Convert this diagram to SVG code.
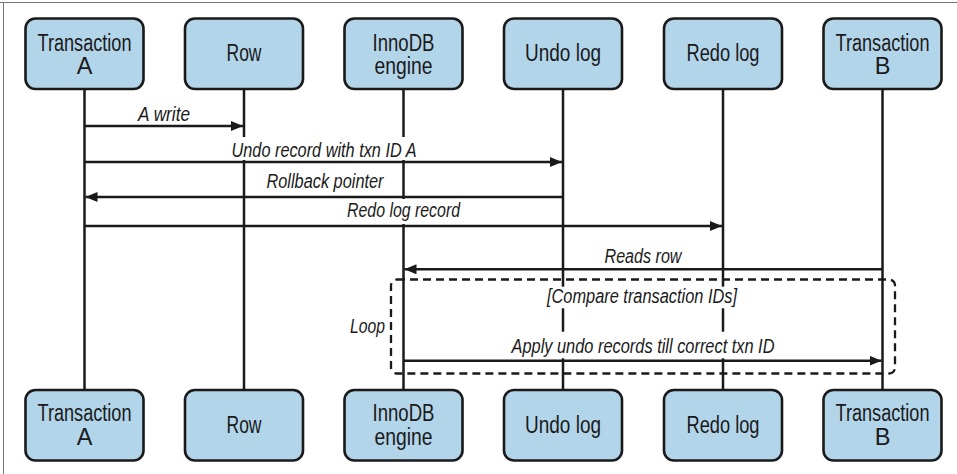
<svg xmlns="http://www.w3.org/2000/svg" width="957" height="474" viewBox="0 0 957 474">
<style>
.box{fill:#b3d5ea;stroke:#1a1a1a;stroke-width:2.6}
.nt{font-family:"Liberation Sans",Arial,sans-serif;font-size:23.5px;fill:#1a1a1a;text-anchor:middle}
.life{stroke:#1a1a1a;stroke-width:2.5;fill:none}
.msg{stroke:#1a1a1a;stroke-width:2.4;fill:none;marker-end:url(#ah)}
.lt{font-family:"Liberation Sans",Arial,sans-serif;font-size:19.5px;font-style:italic;fill:#1a1a1a;text-anchor:middle}
.bg{fill:#ffffff}
.frame{stroke:#777;stroke-width:1;fill:none}
.loop{fill:none;stroke:#1a1a1a;stroke-width:2.3;stroke-dasharray:8 5}
</style>
<defs>
<marker id="ah" markerUnits="userSpaceOnUse" markerWidth="13" markerHeight="11" refX="12" refY="5" orient="auto">
<path d="M0,0 L12,5 L0,10 z" fill="#1a1a1a"/>
</marker>
</defs>
<rect width="957" height="474" fill="#ffffff"/>
<path class="frame" d="M0,2.5 H957 M3.5,2.5 V474"/>

<g id="lifelines">
<line class="life" x1="84.5" y1="89" x2="84.5" y2="390"/>
<line class="life" x1="244" y1="89" x2="244" y2="390"/>
<line class="life" x1="403.5" y1="89" x2="403.5" y2="390"/>
<line class="life" x1="563" y1="89" x2="563" y2="390"/>
<line class="life" x1="723" y1="89" x2="723" y2="390"/>
<line class="life" x1="882.5" y1="89" x2="882.5" y2="390"/>
</g>

<g id="loop-frame">
<rect class="loop" x="391" y="279.5" width="504" height="94" rx="6"/>
<text class="lt" x="385" y="333" style="text-anchor:end" textLength="35" lengthAdjust="spacingAndGlyphs">Loop</text>
<rect class="bg" x="545" y="286.7" width="194" height="21.6"/>
<text class="lt" x="642" y="302.7" textLength="190" lengthAdjust="spacingAndGlyphs">[Compare transaction IDs]</text>
</g>

<g id="connectors">
<g id="msg-a-write">
<line class="msg" x1="84.5" y1="126" x2="243" y2="126"/>
<text class="lt" x="164" y="120.7" textLength="52" lengthAdjust="spacingAndGlyphs">A write</text>
</g>
<g id="msg-undo-record">
<rect class="bg" x="230" y="137" width="189" height="23"/>
<line class="msg" x1="84.5" y1="162" x2="562" y2="162"/>
<text class="lt" x="324" y="156.7" textLength="185" lengthAdjust="spacingAndGlyphs">Undo record with txn ID A</text>
</g>
<g id="msg-rollback">
<line class="msg" x1="563" y1="197" x2="85.5" y2="197"/>
<text class="lt" x="325" y="187.5" textLength="117" lengthAdjust="spacingAndGlyphs">Rollback pointer</text>
</g>
<g id="msg-redo-record">
<rect class="bg" x="345" y="199" width="117" height="25"/>
<line class="msg" x1="84.5" y1="226" x2="722" y2="226"/>
<text class="lt" x="403.5" y="216.7" textLength="113" lengthAdjust="spacingAndGlyphs">Redo log record</text>
</g>
<g id="msg-reads-row">
<line class="msg" x1="882.5" y1="269.3" x2="404.5" y2="269.3"/>
<text class="lt" x="643" y="263.3" textLength="77" lengthAdjust="spacingAndGlyphs">Reads row</text>
</g>
<g id="msg-apply-undo">
<rect class="bg" x="510" y="331.7" width="267" height="26.6"/>
<line class="msg" x1="403.5" y1="360.7" x2="881.5" y2="360.7"/>
<text class="lt" x="643" y="352.7" textLength="263" lengthAdjust="spacingAndGlyphs">Apply undo records till correct txn ID</text>
</g>
</g>

<g id="node-txn-a-top">
<rect class="box" x="25.5" y="18.5" width="118" height="70.5" rx="10"/>
<text class="nt" x="84.5" y="50.5" textLength="94" lengthAdjust="spacingAndGlyphs">Transaction</text>
<text class="nt" x="84.5" y="74.3">A</text>
</g>
<g id="node-row-top">
<rect class="box" x="185" y="18.5" width="118" height="70.5" rx="10"/>
<text class="nt" x="244" y="61" textLength="35" lengthAdjust="spacingAndGlyphs">Row</text>
</g>
<g id="node-innodb-top">
<rect class="box" x="344.5" y="18.5" width="118" height="70.5" rx="10"/>
<text class="nt" x="403.5" y="50.5" textLength="62" lengthAdjust="spacingAndGlyphs">InnoDB</text>
<text class="nt" x="403.5" y="74.3" textLength="58" lengthAdjust="spacingAndGlyphs">engine</text>
</g>
<g id="node-undo-top">
<rect class="box" x="504" y="18.5" width="118" height="70.5" rx="10"/>
<text class="nt" x="563" y="61" textLength="76" lengthAdjust="spacingAndGlyphs">Undo log</text>
</g>
<g id="node-redo-top">
<rect class="box" x="664" y="18.5" width="118" height="70.5" rx="10"/>
<text class="nt" x="723" y="61" textLength="73" lengthAdjust="spacingAndGlyphs">Redo log</text>
</g>
<g id="node-txn-b-top">
<rect class="box" x="823.5" y="18.5" width="118" height="70.5" rx="10"/>
<text class="nt" x="882.5" y="50.5" textLength="94" lengthAdjust="spacingAndGlyphs">Transaction</text>
<text class="nt" x="882.5" y="74.3">B</text>
</g>

<g id="node-txn-a-bottom">
<rect class="box" x="25.5" y="390" width="118" height="70.5" rx="10"/>
<text class="nt" x="84.5" y="421" textLength="94" lengthAdjust="spacingAndGlyphs">Transaction</text>
<text class="nt" x="84.5" y="444.8">A</text>
</g>
<g id="node-row-bottom">
<rect class="box" x="185" y="390" width="118" height="70.5" rx="10"/>
<text class="nt" x="244" y="432.7" textLength="35" lengthAdjust="spacingAndGlyphs">Row</text>
</g>
<g id="node-innodb-bottom">
<rect class="box" x="344.5" y="390" width="118" height="70.5" rx="10"/>
<text class="nt" x="403.5" y="421" textLength="62" lengthAdjust="spacingAndGlyphs">InnoDB</text>
<text class="nt" x="403.5" y="444.8" textLength="58" lengthAdjust="spacingAndGlyphs">engine</text>
</g>
<g id="node-undo-bottom">
<rect class="box" x="504" y="390" width="118" height="70.5" rx="10"/>
<text class="nt" x="563" y="432.7" textLength="76" lengthAdjust="spacingAndGlyphs">Undo log</text>
</g>
<g id="node-redo-bottom">
<rect class="box" x="664" y="390" width="118" height="70.5" rx="10"/>
<text class="nt" x="723" y="432.7" textLength="73" lengthAdjust="spacingAndGlyphs">Redo log</text>
</g>
<g id="node-txn-b-bottom">
<rect class="box" x="823.5" y="390" width="118" height="70.5" rx="10"/>
<text class="nt" x="882.5" y="421" textLength="94" lengthAdjust="spacingAndGlyphs">Transaction</text>
<text class="nt" x="882.5" y="444.8">B</text>
</g>
</svg>
